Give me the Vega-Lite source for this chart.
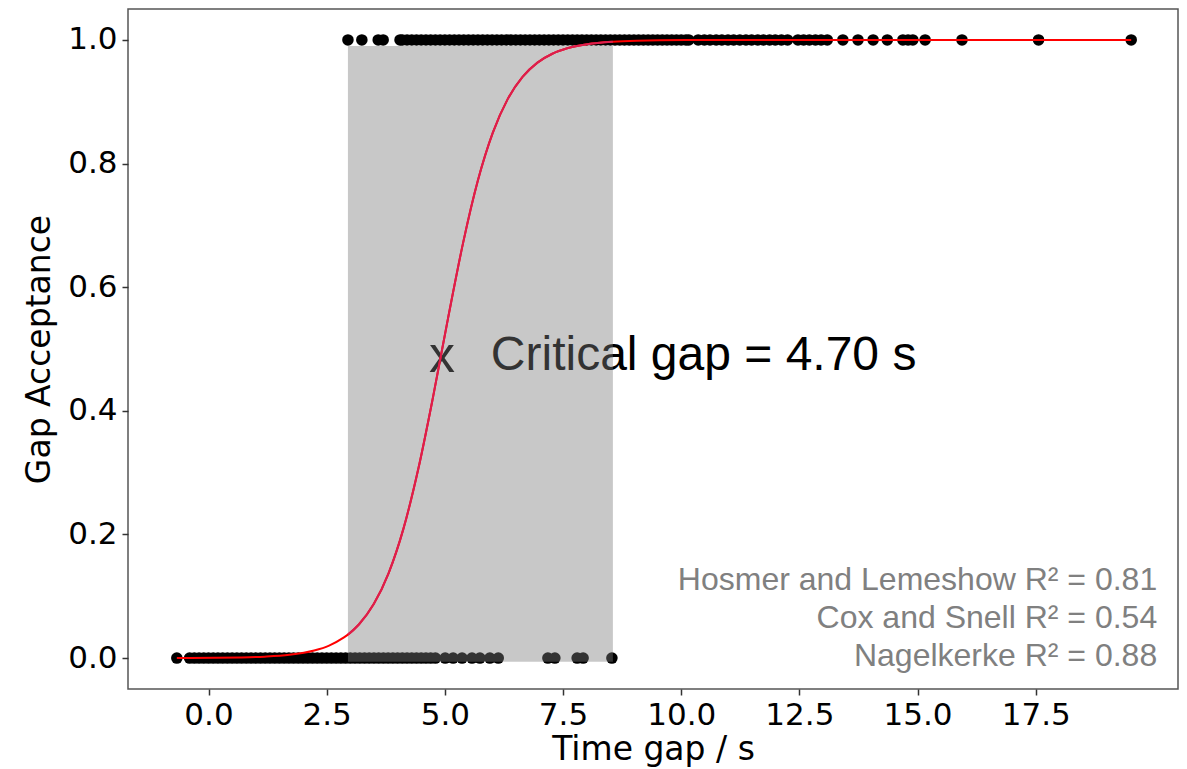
{
  "$schema": "https://vega.github.io/schema/vega-lite/v6.json",
  "width": 1050,
  "height": 680,
  "autosize": {"type": "none"},
  "padding": {"left": 128, "top": 9, "right": 9, "bottom": 80},
  "background": "white",
  "config": {
    "view": {"stroke": "#555555", "strokeWidth": 1.5},
    "axis": {
      "domain": false,
      "grid": false,
      "ticks": true,
      "tickColor": "#333333",
      "tickSize": 6,
      "tickWidth": 1.5,
      "labelFont": "DejaVu Sans",
      "labelFontSize": 31,
      "labelColor": "#000000",
      "labelPadding": 5,
      "titleFont": "DejaVu Sans",
      "titleFontWeight": "normal",
      "titleColor": "#000000"
    }
  },
  "datasets": {
    "points": [
      {"gap": 2.95, "accepted": 1}, {"gap": 3.244, "accepted": 1}, {"gap": 3.59, "accepted": 1}, {"gap": 3.695, "accepted": 1}, {"gap": 4.052, "accepted": 1},
      {"gap": 4.1, "accepted": 1}, {"gap": 4.2, "accepted": 1}, {"gap": 4.3, "accepted": 1}, {"gap": 4.4, "accepted": 1}, {"gap": 4.5, "accepted": 1},
      {"gap": 4.6, "accepted": 1}, {"gap": 4.7, "accepted": 1}, {"gap": 4.8, "accepted": 1}, {"gap": 4.9, "accepted": 1}, {"gap": 5.0, "accepted": 1},
      {"gap": 5.1, "accepted": 1}, {"gap": 5.2, "accepted": 1}, {"gap": 5.3, "accepted": 1}, {"gap": 5.4, "accepted": 1}, {"gap": 5.5, "accepted": 1},
      {"gap": 5.6, "accepted": 1}, {"gap": 5.7, "accepted": 1}, {"gap": 5.8, "accepted": 1}, {"gap": 5.9, "accepted": 1}, {"gap": 6.0, "accepted": 1},
      {"gap": 6.1, "accepted": 1}, {"gap": 6.2, "accepted": 1}, {"gap": 6.3, "accepted": 1}, {"gap": 6.4, "accepted": 1}, {"gap": 6.5, "accepted": 1},
      {"gap": 6.6, "accepted": 1}, {"gap": 6.7, "accepted": 1}, {"gap": 6.8, "accepted": 1}, {"gap": 6.9, "accepted": 1}, {"gap": 7.0, "accepted": 1},
      {"gap": 7.1, "accepted": 1}, {"gap": 7.2, "accepted": 1}, {"gap": 7.3, "accepted": 1}, {"gap": 7.4, "accepted": 1}, {"gap": 7.5, "accepted": 1},
      {"gap": 7.6, "accepted": 1}, {"gap": 7.7, "accepted": 1}, {"gap": 7.8, "accepted": 1}, {"gap": 7.9, "accepted": 1}, {"gap": 8.0, "accepted": 1},
      {"gap": 8.1, "accepted": 1}, {"gap": 8.2, "accepted": 1}, {"gap": 8.3, "accepted": 1}, {"gap": 8.4, "accepted": 1}, {"gap": 8.5, "accepted": 1},
      {"gap": 8.6, "accepted": 1}, {"gap": 8.7, "accepted": 1}, {"gap": 8.8, "accepted": 1}, {"gap": 8.9, "accepted": 1}, {"gap": 9.0, "accepted": 1},
      {"gap": 9.1, "accepted": 1}, {"gap": 9.2, "accepted": 1}, {"gap": 9.3, "accepted": 1}, {"gap": 9.4, "accepted": 1}, {"gap": 9.5, "accepted": 1},
      {"gap": 9.6, "accepted": 1}, {"gap": 9.7, "accepted": 1}, {"gap": 9.8, "accepted": 1}, {"gap": 9.9, "accepted": 1}, {"gap": 10.0, "accepted": 1},
      {"gap": 10.1, "accepted": 1}, {"gap": 10.16, "accepted": 1},
      {"gap": 10.36, "accepted": 1}, {"gap": 10.49, "accepted": 1}, {"gap": 10.61, "accepted": 1}, {"gap": 10.74, "accepted": 1}, {"gap": 10.86, "accepted": 1},
      {"gap": 10.99, "accepted": 1}, {"gap": 11.11, "accepted": 1}, {"gap": 11.24, "accepted": 1}, {"gap": 11.37, "accepted": 1}, {"gap": 11.49, "accepted": 1},
      {"gap": 11.62, "accepted": 1}, {"gap": 11.74, "accepted": 1}, {"gap": 11.87, "accepted": 1}, {"gap": 11.99, "accepted": 1}, {"gap": 12.12, "accepted": 1},
      {"gap": 12.25, "accepted": 1}, {"gap": 12.47, "accepted": 1}, {"gap": 12.59, "accepted": 1}, {"gap": 12.71, "accepted": 1}, {"gap": 12.84, "accepted": 1},
      {"gap": 12.96, "accepted": 1}, {"gap": 13.09, "accepted": 1}, {"gap": 13.42, "accepted": 1}, {"gap": 13.74, "accepted": 1}, {"gap": 14.06, "accepted": 1},
      {"gap": 14.36, "accepted": 1}, {"gap": 14.69, "accepted": 1}, {"gap": 14.8, "accepted": 1}, {"gap": 14.9, "accepted": 1}, {"gap": 15.16, "accepted": 1},
      {"gap": 15.94, "accepted": 1}, {"gap": 17.56, "accepted": 1}, {"gap": 19.52, "accepted": 1},
      {"gap": -0.67, "accepted": 0}, {"gap": -0.4, "accepted": 0}, {"gap": -0.3, "accepted": 0}, {"gap": -0.2, "accepted": 0}, {"gap": -0.1, "accepted": 0},
      {"gap": 0.0, "accepted": 0}, {"gap": 0.1, "accepted": 0}, {"gap": 0.2, "accepted": 0}, {"gap": 0.3, "accepted": 0}, {"gap": 0.4, "accepted": 0},
      {"gap": 0.5, "accepted": 0}, {"gap": 0.6, "accepted": 0}, {"gap": 0.7, "accepted": 0}, {"gap": 0.8, "accepted": 0}, {"gap": 0.9, "accepted": 0},
      {"gap": 1.0, "accepted": 0}, {"gap": 1.1, "accepted": 0}, {"gap": 1.2, "accepted": 0}, {"gap": 1.3, "accepted": 0}, {"gap": 1.4, "accepted": 0},
      {"gap": 1.5, "accepted": 0}, {"gap": 1.6, "accepted": 0}, {"gap": 1.7, "accepted": 0}, {"gap": 1.8, "accepted": 0}, {"gap": 1.9, "accepted": 0},
      {"gap": 2.0, "accepted": 0}, {"gap": 2.1, "accepted": 0}, {"gap": 2.2, "accepted": 0}, {"gap": 2.3, "accepted": 0}, {"gap": 2.4, "accepted": 0},
      {"gap": 2.5, "accepted": 0}, {"gap": 2.6, "accepted": 0}, {"gap": 2.7, "accepted": 0}, {"gap": 2.8, "accepted": 0}, {"gap": 2.9, "accepted": 0},
      {"gap": 3.0, "accepted": 0}, {"gap": 3.1, "accepted": 0}, {"gap": 3.2, "accepted": 0}, {"gap": 3.3, "accepted": 0}, {"gap": 3.4, "accepted": 0},
      {"gap": 3.5, "accepted": 0}, {"gap": 3.6, "accepted": 0}, {"gap": 3.7, "accepted": 0}, {"gap": 3.8, "accepted": 0}, {"gap": 3.9, "accepted": 0},
      {"gap": 4.0, "accepted": 0}, {"gap": 4.1, "accepted": 0}, {"gap": 4.2, "accepted": 0}, {"gap": 4.3, "accepted": 0}, {"gap": 4.4, "accepted": 0},
      {"gap": 4.5, "accepted": 0}, {"gap": 4.6, "accepted": 0}, {"gap": 4.7, "accepted": 0}, {"gap": 4.8, "accepted": 0},
      {"gap": 5.007, "accepted": 0}, {"gap": 5.175, "accepted": 0}, {"gap": 5.364, "accepted": 0}, {"gap": 5.574, "accepted": 0}, {"gap": 5.742, "accepted": 0},
      {"gap": 5.952, "accepted": 0}, {"gap": 6.13, "accepted": 0}, {"gap": 7.18, "accepted": 0}, {"gap": 7.327, "accepted": 0}, {"gap": 7.799, "accepted": 0},
      {"gap": 7.925, "accepted": 0}, {"gap": 8.534, "accepted": 0}
    ],
    "curve": [
      {"gap": -0.67, "p": 0.00011}, {"gap": -0.387, "p": 0.00018}, {"gap": 0.1375, "p": 0.00042}, {"gap": 0.662, "p": 0.00097},
      {"gap": 1.187, "p": 0.00227}, {"gap": 1.712, "p": 0.00529}, {"gap": 2.236, "p": 0.0123}, {"gap": 2.551, "p": 0.0203},
      {"gap": 2.866, "p": 0.0334}, {"gap": 2.95, "p": 0.038}, {"gap": 3.181, "p": 0.0544}, {"gap": 3.496, "p": 0.0874},
      {"gap": 3.811, "p": 0.1376}, {"gap": 4.126, "p": 0.2098}, {"gap": 4.44, "p": 0.3066}, {"gap": 4.755, "p": 0.4241},
      {"gap": 5.07, "p": 0.5508}, {"gap": 5.385, "p": 0.6713}, {"gap": 5.7, "p": 0.7728}, {"gap": 6.015, "p": 0.8499},
      {"gap": 6.329, "p": 0.9042}, {"gap": 6.644, "p": 0.9401}, {"gap": 6.959, "p": 0.9632}, {"gap": 7.274, "p": 0.9776},
      {"gap": 7.589, "p": 0.9864}, {"gap": 8.009, "p": 0.9931}, {"gap": 8.555, "p": 0.99712}, {"gap": 9.058, "p": 0.99872},
      {"gap": 10.108, "p": 0.99977}, {"gap": 11.682, "p": 0.99998}, {"gap": 19.52, "p": 1.0}
    ],
    "band": [{"from": 2.95, "to": 8.555, "low": -0.006, "high": 0.99}],
    "labels": [
      {"gap": 5.973, "p": 0.466, "label": "Critical gap = 4.70 s"}
    ],
    "marker": [{"gap": 4.94, "p": 0.489, "label": "x"}],
    "stats": [
      {"gap": 20.07, "p": 0.110, "label": "Hosmer and Lemeshow R² = 0.81"},
      {"gap": 20.07, "p": 0.0486, "label": "Cox and Snell R² = 0.54"},
      {"gap": 20.07, "p": -0.013, "label": "Nagelkerke R² = 0.88"}
    ]
  },
  "layer": [
    {
      "data": {"name": "points"},
      "mark": {"type": "circle", "size": 133, "color": "#000000", "opacity": 1},
      "encoding": {
        "x": {
          "field": "gap", "type": "quantitative",
          "scale": {"domain": [-1.703, 20.51], "nice": false, "zero": false},
          "axis": {"values": [0, 2.5, 5, 7.5, 10, 12.5, 15, 17.5], "format": ".1f", "title": "Time gap / s", "titleFontSize": 33, "titlePadding": 3}
        },
        "y": {
          "field": "accepted", "type": "quantitative",
          "scale": {"domain": [-0.05, 1.05], "nice": false, "zero": false},
          "axis": {"values": [0, 0.2, 0.4, 0.6, 0.8, 1.0], "format": ".1f", "title": "Gap Acceptance", "titleFontSize": 33, "titlePadding": 11}
        }
      }
    },
    {
      "data": {"name": "labels"},
      "mark": {"type": "text", "align": "left", "baseline": "alphabetic", "font": "Liberation Sans", "fontSize": 48, "color": "#000000"},
      "encoding": {
        "x": {"field": "gap", "type": "quantitative"},
        "y": {"field": "p", "type": "quantitative"},
        "text": {"field": "label"}
      }
    },
    {
      "data": {"name": "marker"},
      "mark": {"type": "text", "align": "center", "baseline": "middle", "font": "Liberation Sans", "fontSize": 52, "color": "#000000"},
      "encoding": {
        "x": {"field": "gap", "type": "quantitative"},
        "y": {"field": "p", "type": "quantitative"},
        "text": {"field": "label"}
      }
    },
    {
      "data": {"name": "band"},
      "mark": {"type": "rect", "color": "#7b7b7b", "opacity": 0.416},
      "encoding": {
        "x": {"field": "from", "type": "quantitative"},
        "x2": {"field": "to"},
        "y": {"field": "low", "type": "quantitative"},
        "y2": {"field": "high"}
      }
    },
    {
      "data": {"name": "curve"},
      "mark": {"type": "line", "color": "#ff0000", "strokeWidth": 2, "interpolate": "monotone"},
      "encoding": {
        "x": {"field": "gap", "type": "quantitative"},
        "y": {"field": "p", "type": "quantitative"}
      }
    },
    {
      "data": {"name": "curve"},
      "transform": [{"filter": "datum.gap >= 2.95 && datum.gap <= 8.555"}],
      "mark": {"type": "line", "color": "#dc1e4e", "strokeWidth": 2, "interpolate": "monotone"},
      "encoding": {
        "x": {"field": "gap", "type": "quantitative"},
        "y": {"field": "p", "type": "quantitative"}
      }
    },
    {
      "data": {"name": "stats"},
      "mark": {"type": "text", "align": "right", "baseline": "alphabetic", "font": "Liberation Sans", "fontSize": 32, "color": "#808080"},
      "encoding": {
        "x": {"field": "gap", "type": "quantitative"},
        "y": {"field": "p", "type": "quantitative"},
        "text": {"field": "label"}
      }
    }
  ]
}
